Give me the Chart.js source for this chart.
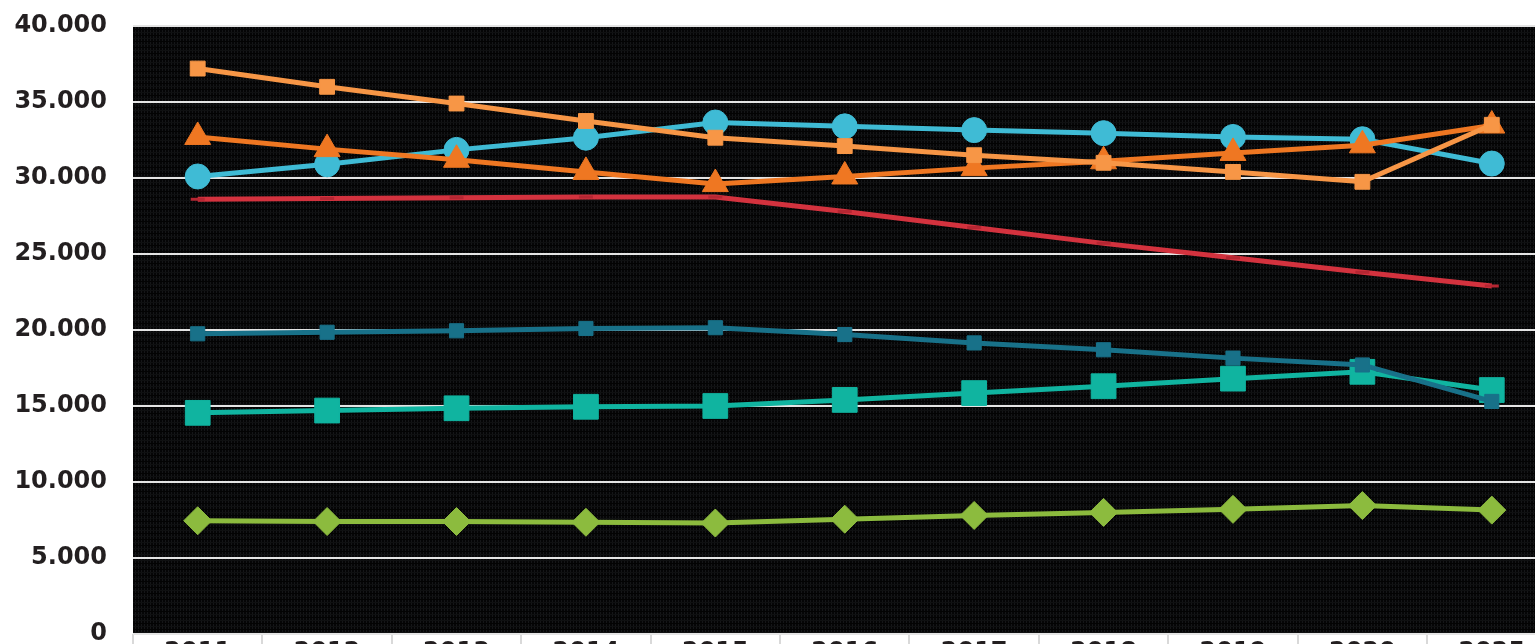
<!DOCTYPE html>
<html>
<head>
<meta charset="utf-8">
<script src="https://cdn.jsdelivr.net/npm/chart.js@4.4.1/dist/chart.umd.min.js"></script>
<style>
  html, body { margin: 0; padding: 0; background: #ffffff; overflow: hidden; }
  #myChart { position: absolute; left: 0; top: 0; }
</style>
</head>
<body>
<canvas id="myChart" width="1575" height="690"></canvas>
<script>
var years = ["2011", "2012", "2013", "2014", "2015", "2016", "2017", "2018", "2019", "2020", "2025"];

var orangeSquares = [37200, 36000, 34900, 33750, 32650, 32100, 31500, 31000, 30400, 29750, 33500];
var orangeTriangles = [32700, 31900, 31200, 30400, 29600, 30100, 30650, 31100, 31650, 32150, 33450];
var blueCircles = [30100, 30900, 31850, 32650, 33650, 33400, 33150, 32950, 32700, 32550, 30950];
var redLine = [28600, 28650, 28700, 28750, 28750, 27800, 26750, 25700, 24750, 23800, 22900];
var darkTeal = [19750, 19850, 19950, 20100, 20150, 19700, 19150, 18700, 18150, 17700, 15300];
var tealGreen = [14550, 14700, 14850, 14950, 15000, 15400, 15850, 16300, 16800, 17250, 16050];
var limeGreen = [7450, 7400, 7400, 7350, 7300, 7550, 7800, 8000, 8200, 8450, 8150];

var yTicks = [0, 5000, 10000, 15000, 20000, 25000, 30000, 35000, 40000];

function fmt(v) {
  return String(v).replace(/\B(?=(\d{3})+(?!\d))/g, ".");
}

// dark woven texture behind the plot
function makePattern(ctx) {
  var c = document.createElement("canvas");
  c.width = 6; c.height = 6;
  var g = c.getContext("2d");
  g.fillStyle = "#050506";
  g.fillRect(0, 0, 6, 6);
  g.fillStyle = "#151618";
  g.fillRect(0, 0, 1, 6);
  g.fillRect(3, 0, 1, 6);
  g.fillStyle = "#0f1011";
  g.fillRect(0, 2, 6, 1);
  g.fillStyle = "#030303";
  g.fillRect(0, 5, 6, 1);
  return ctx.createPattern(c, "repeat");
}

var plotBg = {
  id: "plotBg",
  beforeDraw: function(chart) {
    var a = chart.chartArea, ctx = chart.ctx;
    ctx.save();
    ctx.fillStyle = makePattern(ctx);
    ctx.fillRect(a.left, a.top, a.right - a.left, a.bottom - a.top);
    ctx.restore();
  }
};

function ds(label, data, color, style, radius, border) {
  return {
    label: label,
    data: data,
    borderColor: color,
    backgroundColor: color,
    borderWidth: 5,
    pointStyle: style,
    pointRadius: radius,
    pointHoverRadius: radius,
    pointBackgroundColor: color,
    pointBorderColor: border || color,
    pointBorderWidth: 1,
    tension: 0,
    fill: false
  };
}

var datasets = [
  ds("Reeks 1", orangeSquares, "#f79646", "rect", 10.5),
  ds("Reeks 2", orangeTriangles, "#ef7722", "triangle", 15),
  ds("Reeks 3", blueCircles, "#3fbbd5", "circle", 12.5),
  ds("Reeks 4", redLine, "#d3323e", "line", 7, "#b52632"),
  ds("Reeks 5", darkTeal, "#187189", "rect", 10),
  ds("Reeks 6", tealGreen, "#10b4a0", "rect", 17.5),
  ds("Reeks 7", limeGreen, "#8cbb3e", "rectRot", 14)
];
datasets[3].pointBorderWidth = 3;

var tickFont = { family: "'DejaVu Sans', Verdana, sans-serif", size: 24, weight: "bold" };

var ctx = document.getElementById("myChart").getContext("2d");
var myChart = new Chart(ctx, {
  type: "line",
  data: { labels: years, datasets: datasets },
  plugins: [plotBg],
  options: {
    responsive: false,
    animation: false,
    devicePixelRatio: 1,
    layout: { padding: { top: 26, right: 4, left: 0, bottom: 0 } },
    plugins: {
      legend: { display: false },
      tooltip: { enabled: false }
    },
    scales: {
      x: {
        offset: true,
        grid: {
          offset: true,
          drawOnChartArea: false,
          drawTicks: true,
          tickLength: 14,
          color: "#d9d9d9",
          lineWidth: 2
        },
        border: { display: false },
        ticks: { color: "#231f20", font: tickFont, padding: -10, maxRotation: 0, autoSkip: false },
        afterFit: function(scale) {
          scale.height = 56;
          scale.paddingLeft = 0;
          scale.paddingRight = 0;
        }
      },
      y: {
        min: 0,
        max: 40000,
        afterBuildTicks: function(scale) {
          scale.ticks = yTicks.map(function(v) { return { value: v }; });
        },
        grid: {
          drawTicks: true,
          tickLength: 26,
          tickColor: "rgba(0,0,0,0)",
          color: "#e4e4e4",
          lineWidth: 2
        },
        border: { display: false },
        ticks: {
          color: "#231f20",
          font: tickFont,
          padding: 0,
          callback: function(v) { return fmt(v); }
        },
        afterFit: function(scale) {
          scale.width = 133;
          scale.paddingTop = 0;
          scale.paddingBottom = 0;
        }
      }
    }
  }
});
</script>
</body>
</html>
